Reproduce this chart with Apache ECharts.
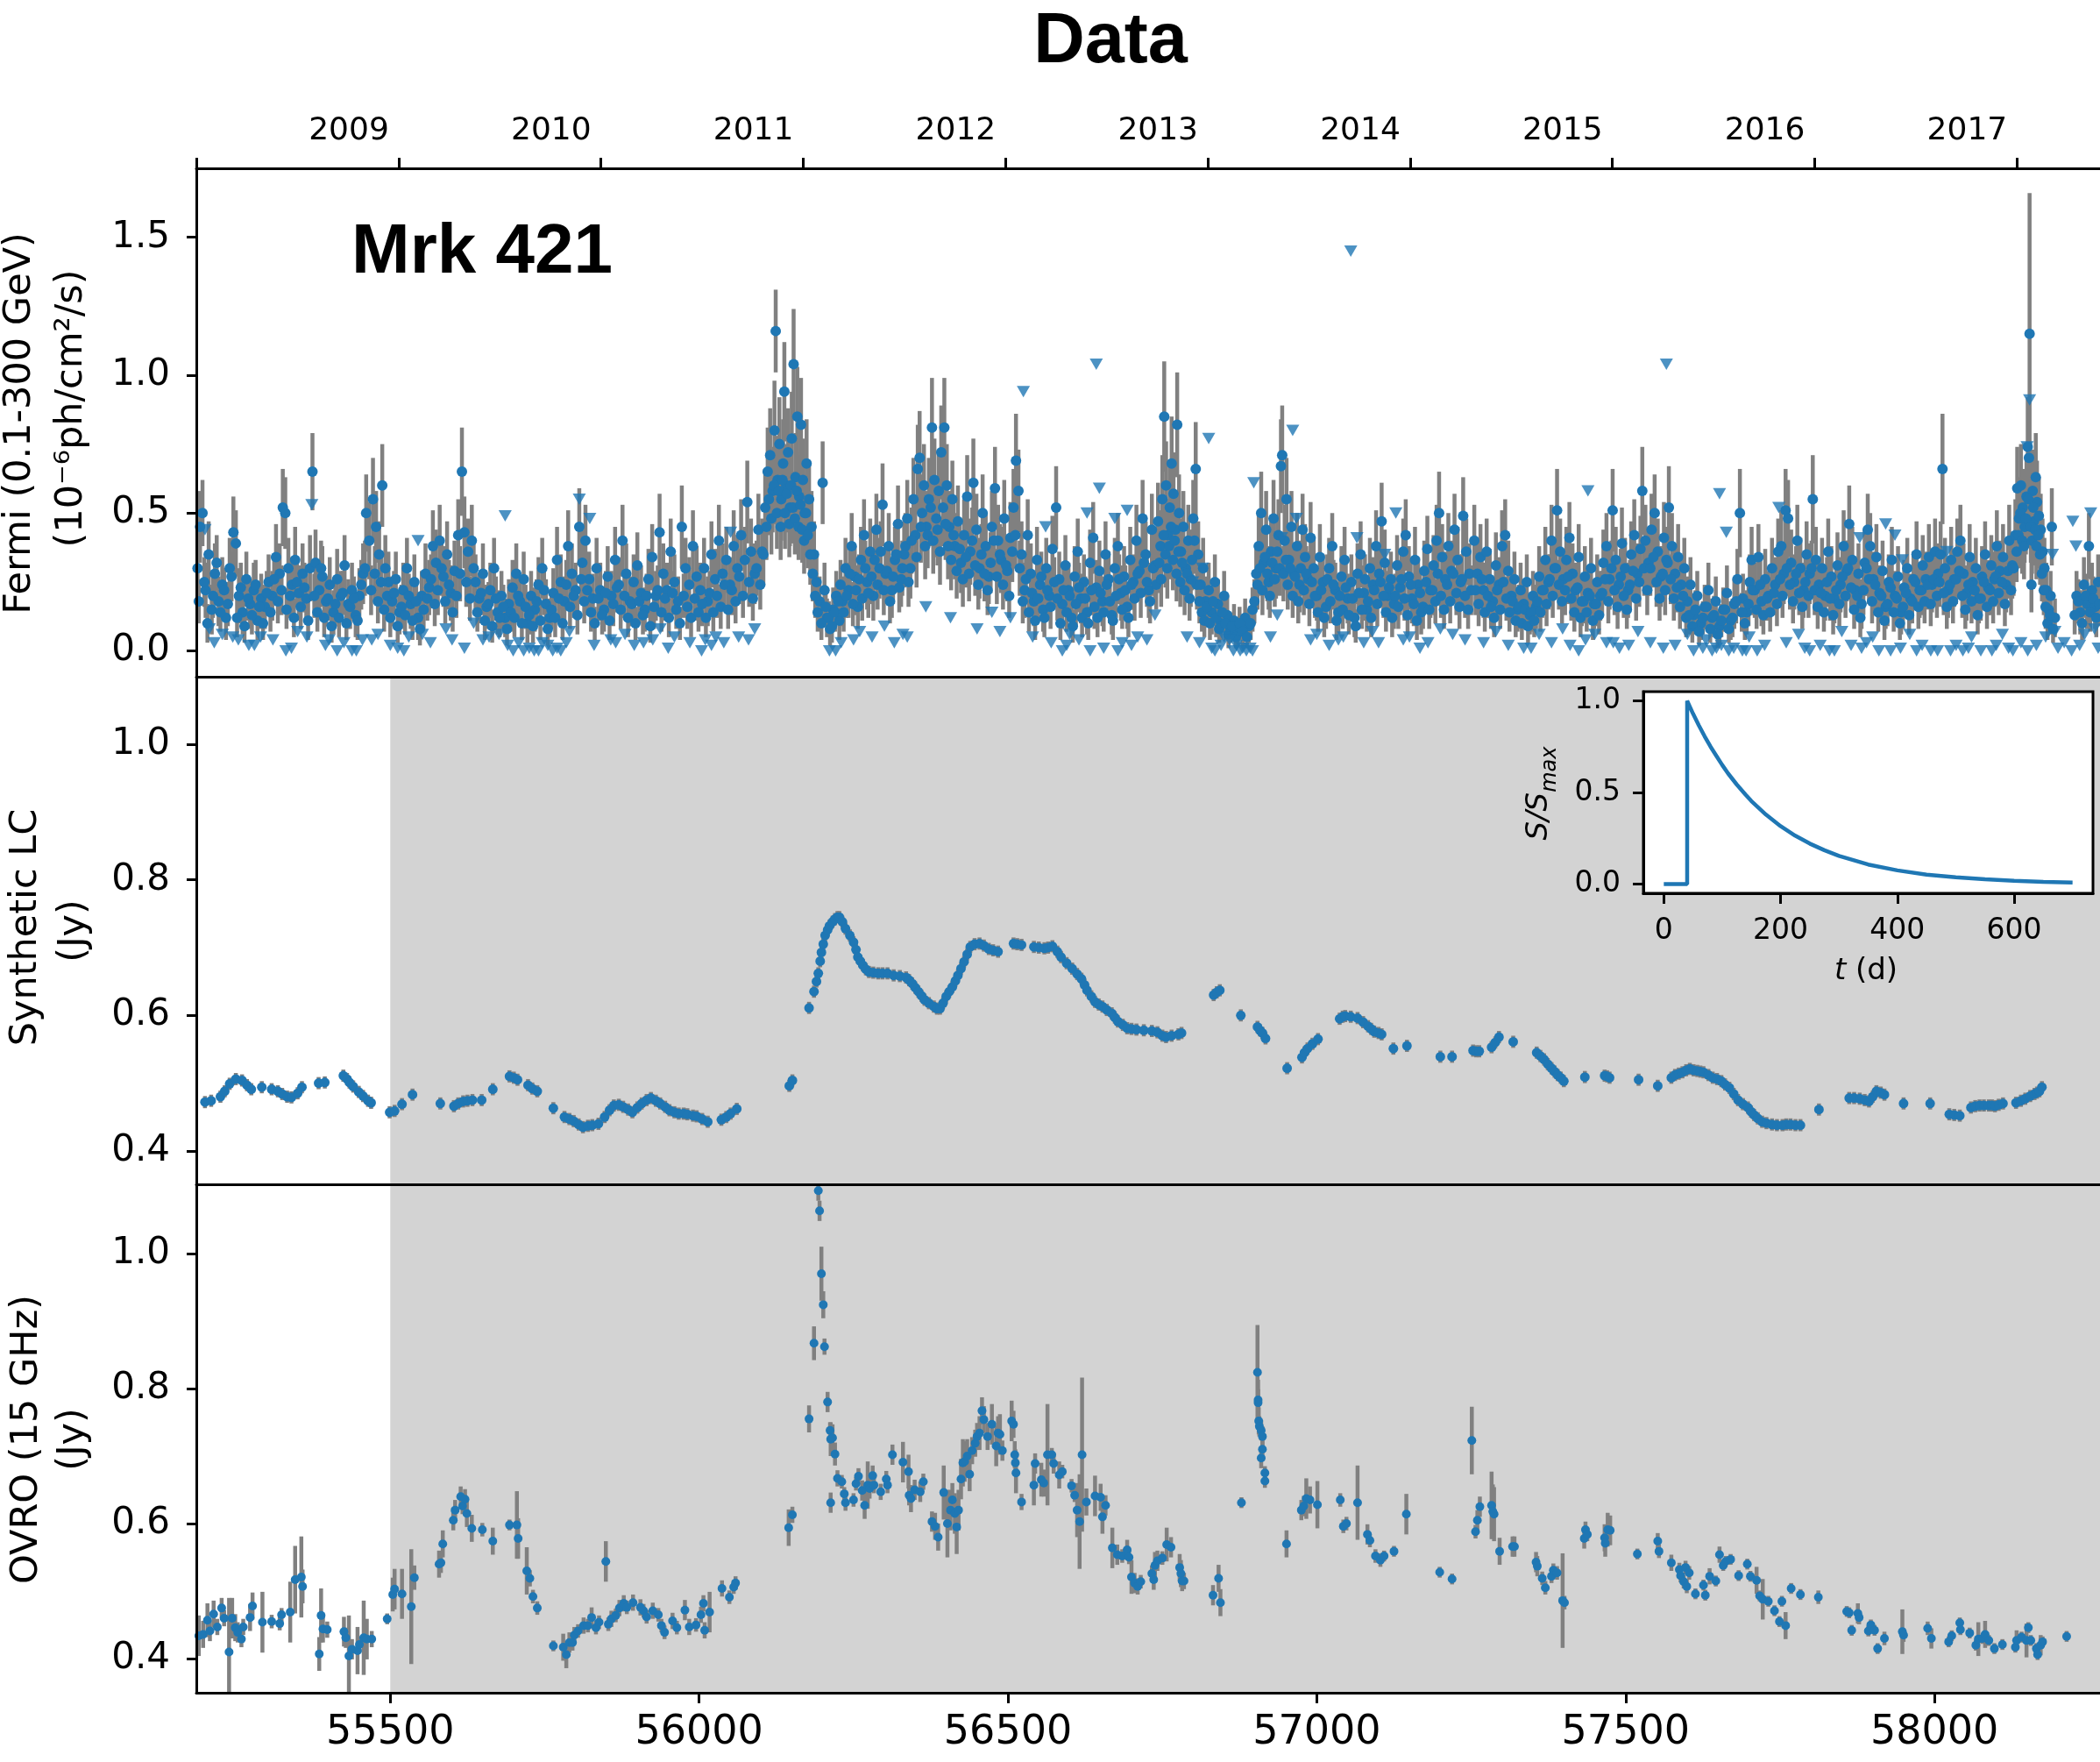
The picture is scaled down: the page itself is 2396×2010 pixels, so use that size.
<!DOCTYPE html>
<html><head><meta charset="utf-8">
<script src="https://cdn.jsdelivr.net/npm/echarts@6/dist/echarts.min.js"></script>
<style>html,body{margin:0;padding:0;background:#fff}#c{width:2396px;height:2010px}</style>
</head><body><div id="c"></div>
<script>
// ---------------- DATA ----------------
// Fermi detections: [MJD, flux (1e-6 ph/cm2/s), error]
const fermiPts = [
[55188,0.30,0.12],[55192,0.45,0.13],[55196,0.50,0.12],[55201,0.22,0.10],[55206,0.35,0.12],[55211,0.15,0.09],[55216,0.28,0.11],[55222,0.18,0.09],[55228,0.24,0.10],[55234,0.12,0.08],[55240,0.30,0.11],[55246,0.43,0.13],[55250,0.39,0.12],[55255,0.20,0.10],[55261,0.14,0.08],[55267,0.26,0.10],[55273,0.17,0.09],[55279,0.22,0.10],[55285,0.11,0.07],[55291,0.19,0.09],[55297,0.16,0.08],[55303,0.25,0.10],[55309,0.20,0.09],[55315,0.34,0.12],[55321,0.28,0.11],[55326,0.52,0.14],[55330,0.50,0.13],[55335,0.30,0.11],[55341,0.24,0.10],[55346,0.33,0.12],[55352,0.21,0.10],[55358,0.28,0.11],[55364,0.19,0.09],[55370,0.30,0.12],[55374,0.65,0.14],[55379,0.32,0.12],[55385,0.22,0.10],[55390,0.27,0.11],[55396,0.18,0.09],[55402,0.24,0.10],[55408,0.14,0.08],[55414,0.26,0.11],[55420,0.20,0.09],[55426,0.31,0.11],[55432,0.17,0.09],[55438,0.22,0.10],[55444,0.13,0.08],[55450,0.20,0.10],[55456,0.28,0.11],[55461,0.50,0.14],[55466,0.40,0.14],[55472,0.55,0.15],[55477,0.45,0.13],[55482,0.35,0.12],[55487,0.60,0.15],[55492,0.30,0.12],[55497,0.25,0.11],
[55503,0.18,0.09],[55509,0.26,0.10],[55515,0.14,0.08],[55521,0.22,0.10],[55527,0.30,0.11],[55533,0.17,0.09],[55539,0.25,0.10],[55545,0.12,0.08],[55551,0.20,0.09],[55557,0.28,0.11],[55563,0.23,0.10],[55569,0.38,0.13],[55574,0.32,0.12],[55580,0.40,0.13],[55586,0.27,0.11],[55592,0.35,0.12],[55598,0.21,0.10],[55604,0.29,0.11],[55610,0.42,0.13],[55616,0.65,0.16],[55620,0.43,0.13],[55626,0.36,0.12],[55632,0.40,0.13],[55638,0.25,0.10],[55644,0.19,0.09],[55650,0.28,0.11],[55656,0.16,0.08],[55662,0.22,0.10],[55668,0.30,0.11],[55674,0.14,0.08],[55680,0.20,0.09],[55686,0.12,0.07],[55692,0.17,0.09],[55698,0.23,0.10],
[55704,0.28,0.11],[55710,0.18,0.09],[55716,0.26,0.10],[55722,0.10,0.07],[55728,0.20,0.09],[55734,0.15,0.08],[55740,0.24,0.10],[55746,0.30,0.11],[55752,0.17,0.09],[55758,0.12,0.07],[55764,0.21,0.09],[55770,0.33,0.12],[55776,0.25,0.10],[55782,0.18,0.09],[55788,0.38,0.13],[55794,0.28,0.11],[55800,0.22,0.10],[55806,0.45,0.14],[55811,0.32,0.12],[55816,0.40,0.13],[55822,0.26,0.10],[55828,0.19,0.09],[55834,0.30,0.11],[55840,0.22,0.10],[55846,0.15,0.08],[55852,0.27,0.11],[55858,0.20,0.09],[55864,0.33,0.12],[55870,0.24,0.10],[55876,0.40,0.13],[55882,0.28,0.11],[55888,0.18,0.09],[55894,0.25,0.10],[55900,0.31,0.12],[55906,0.21,0.10],[55912,0.15,0.08],[55918,0.26,0.11],[55924,0.34,0.12],[55930,0.20,0.09],[55936,0.43,0.14],[55942,0.28,0.11],[55948,0.22,0.10],[55954,0.36,0.12],[55960,0.25,0.10],[55966,0.18,0.09],[55972,0.45,0.15],[55978,0.30,0.11],[55984,0.24,0.10],[55990,0.38,0.13],[55996,0.27,0.11],
[56002,0.22,0.10],[56008,0.30,0.11],[56014,0.18,0.09],[56020,0.35,0.12],[56026,0.26,0.11],[56032,0.40,0.13],[56038,0.28,0.11],[56044,0.33,0.12],[56050,0.24,0.10],[56056,0.38,0.13],[56062,0.30,0.12],[56068,0.42,0.13],[56074,0.33,0.12],[56078,0.54,0.15],[56084,0.36,0.12],[56090,0.28,0.11],[56096,0.44,0.13],[56102,0.36,0.12],[56107,0.52,0.14],[56111,0.65,0.16],[56115,0.71,0.17],[56119,0.58,0.15],[56122,0.80,0.18],[56124,1.16,0.15],[56127,0.62,0.16],[56130,0.75,0.17],[56133,0.55,0.15],[56136,0.68,0.16],[56138,0.94,0.18],[56141,0.60,0.15],[56144,0.72,0.16],[56147,0.52,0.14],[56150,0.77,0.17],[56153,1.04,0.20],[56156,0.63,0.16],[56159,0.85,0.18],[56162,0.56,0.15],[56165,0.82,0.17],[56168,0.62,0.15],[56171,0.50,0.14],[56174,0.68,0.16],[56178,0.55,0.14],[56182,0.45,0.13],[56186,0.35,0.12],[56190,0.25,0.10],[56195,0.18,0.09],[56200,0.61,0.15],[56203,0.22,0.10],[56207,0.12,0.07],[56212,0.08,0.06],[56217,0.15,0.08],[56222,0.20,0.09],[56227,0.11,0.07],
[56232,0.18,0.09],[56237,0.30,0.11],[56242,0.22,0.10],[56247,0.38,0.12],[56252,0.27,0.11],[56257,0.16,0.08],[56262,0.33,0.12],[56267,0.42,0.13],[56272,0.25,0.10],[56277,0.36,0.12],[56282,0.20,0.09],[56287,0.44,0.13],[56292,0.30,0.11],[56297,0.53,0.15],[56302,0.28,0.11],[56307,0.38,0.12],[56312,0.22,0.10],[56317,0.33,0.12],[56322,0.46,0.14],[56327,0.26,0.10],[56332,0.35,0.12],[56337,0.48,0.14],[56342,0.30,0.11],[56347,0.55,0.15],[56350,0.42,0.13],[56354,0.66,0.16],[56357,0.70,0.17],[56361,0.50,0.14],[56364,0.60,0.15],[56368,0.45,0.13],[56372,0.55,0.15],[56377,0.81,0.18],[56381,0.62,0.15],[56384,0.48,0.14],[56388,0.58,0.15],[56392,0.72,0.17],[56395,0.52,0.14],[56397,0.81,0.18],[56401,0.60,0.15],[56405,0.45,0.13],[56410,0.55,0.14],[56414,0.38,0.12],[56419,0.47,0.13],[56424,0.32,0.11],[56429,0.42,0.13],[56434,0.56,0.15],[56439,0.36,0.12],[56444,0.61,0.16],[56449,0.44,0.13],[56454,0.30,0.11],[56459,0.50,0.14],[56464,0.38,0.12],[56469,0.27,0.10],[56474,0.45,0.13],[56479,0.59,0.15],[56484,0.40,0.13],[56489,0.33,0.12],[56494,0.48,0.14],[56499,0.29,0.11],[56504,0.41,0.13],[56509,0.52,0.14],[56513,0.69,0.17],[56517,0.58,0.15],
[56522,0.35,0.12],[56527,0.22,0.10],[56532,0.42,0.13],[56537,0.28,0.11],[56542,0.18,0.09],[56547,0.33,0.12],[56552,0.24,0.10],[56557,0.15,0.08],[56562,0.30,0.11],[56567,0.20,0.09],[56572,0.37,0.12],[56578,0.52,0.15],[56583,0.26,0.10],[56588,0.17,0.09],[56593,0.31,0.11],[56598,0.22,0.10],[56603,0.12,0.07],[56608,0.27,0.11],[56613,0.36,0.12],[56618,0.19,0.09],[56623,0.25,0.10],[56628,0.14,0.08],[56633,0.32,0.12],[56638,0.41,0.13],[56643,0.23,0.10],[56648,0.29,0.11],[56653,0.18,0.09],[56658,0.35,0.12],[56663,0.26,0.10],[56668,0.13,0.07],[56673,0.30,0.11],[56678,0.38,0.12],[56683,0.21,0.10],[56688,0.27,0.11],[56693,0.16,0.08],[56698,0.33,0.12],[56703,0.25,0.10],[56708,0.40,0.13],[56713,0.29,0.11],[56718,0.48,0.14],[56723,0.35,0.12],[56728,0.22,0.10],[56733,0.44,0.13],[56738,0.31,0.12],
[56743,0.47,0.14],[56747,0.38,0.13],[56750,0.55,0.16],[56753,0.85,0.20],[56756,0.60,0.16],[56759,0.42,0.13],[56762,0.52,0.15],[56765,0.68,0.17],[56768,0.57,0.15],[56771,0.44,0.13],[56774,0.82,0.19],[56777,0.50,0.14],[56780,0.36,0.12],[56784,0.45,0.13],[56788,0.30,0.11],[56792,0.40,0.13],[56796,0.26,0.10],[56800,0.48,0.14],[56804,0.66,0.17],[56808,0.35,0.12],[56812,0.24,0.10],[56816,0.30,0.11],[56820,0.18,0.09],[56825,0.22,0.10],[56830,0.14,0.08],[56835,0.25,0.10],[56840,0.17,0.09],[56845,0.10,0.06],[56850,0.20,0.09],[56855,0.13,0.07],[56860,0.08,0.05],[56866,0.11,0.06],[56872,0.07,0.05],
[56884,0.12,0.07],[56890,0.09,0.06],[56896,0.15,0.08],[56902,0.28,0.11],[56906,0.38,0.13],[56910,0.50,0.15],[56914,0.32,0.12],[56918,0.44,0.14],[56922,0.25,0.10],[56926,0.36,0.12],[56930,0.48,0.14],[56934,0.30,0.11],[56938,0.42,0.13],[56942,0.67,0.17],[56944,0.71,0.18],[56948,0.40,0.13],[56951,0.55,0.15],[56955,0.33,0.12],[56959,0.45,0.13],[56963,0.28,0.11],[56968,0.38,0.12],[56972,0.24,0.10],[56977,0.44,0.13],[56981,0.34,0.12],[56986,0.26,0.10],[56990,0.41,0.13],[56995,0.30,0.11],
[57000,0.20,0.09],[57005,0.34,0.12],[57010,0.25,0.10],[57015,0.16,0.08],[57020,0.30,0.11],[57025,0.38,0.12],[57030,0.22,0.10],[57035,0.14,0.08],[57040,0.27,0.11],[57045,0.33,0.12],[57050,0.19,0.09],[57056,0.25,0.10],[57061,0.12,0.07],[57066,0.28,0.11],[57071,0.35,0.12],[57076,0.21,0.10],[57081,0.15,0.08],[57086,0.30,0.11],[57091,0.24,0.10],[57096,0.38,0.13],[57101,0.28,0.11],[57105,0.47,0.14],[57110,0.32,0.12],[57115,0.20,0.09],[57120,0.26,0.10],[57125,0.17,0.09],[57130,0.31,0.11],[57135,0.23,0.10],[57140,0.36,0.12],[57144,0.42,0.13],[57149,0.27,0.11],[57154,0.19,0.09],[57159,0.33,0.12],[57164,0.24,0.10],[57169,0.14,0.08],[57174,0.29,0.11],[57179,0.37,0.12],[57184,0.22,0.10],[57189,0.31,0.11],[57194,0.40,0.13],[57198,0.50,0.15],[57203,0.34,0.12],[57208,0.26,0.10],[57213,0.38,0.12],[57218,0.29,0.11],[57223,0.44,0.13],[57228,0.33,0.12],[57233,0.25,0.10],[57237,0.49,0.14],[57242,0.36,0.12],[57247,0.28,0.11],
[57255,0.40,0.13],[57260,0.28,0.11],[57265,0.34,0.12],[57270,0.22,0.10],[57275,0.36,0.12],[57280,0.26,0.11],[57285,0.18,0.09],[57290,0.31,0.12],[57295,0.24,0.10],[57300,0.38,0.13],[57305,0.42,0.13],[57310,0.29,0.11],[57315,0.20,0.09],[57320,0.26,0.10],[57325,0.15,0.08],[57330,0.22,0.10],[57335,0.17,0.09],[57340,0.25,0.10],[57345,0.13,0.07],[57350,0.20,0.09],[57355,0.16,0.08],[57360,0.27,0.11],[57365,0.22,0.10],[57370,0.33,0.12],[57375,0.25,0.10],[57380,0.40,0.13],[57385,0.30,0.11],[57389,0.51,0.15],[57394,0.36,0.12],[57399,0.26,0.10],[57404,0.33,0.12],[57409,0.41,0.13],[57414,0.28,0.11],[57419,0.22,0.10],[57424,0.34,0.12],[57429,0.18,0.09],[57434,0.27,0.11],[57439,0.21,0.10],[57444,0.30,0.11],[57449,0.17,0.09],[57454,0.25,0.10],[57459,0.20,0.09],[57464,0.32,0.12],[57469,0.38,0.12],[57474,0.26,0.11],[57479,0.51,0.15],[57484,0.33,0.12],[57489,0.24,0.10],[57494,0.39,0.13],[57499,0.30,0.11],[57504,0.22,0.10],[57509,0.35,0.12],[57514,0.42,0.13],[57519,0.28,0.11],[57524,0.37,0.12],[57527,0.58,0.16],[57532,0.40,0.13],[57537,0.32,0.12],[57542,0.44,0.13],[57547,0.50,0.14],[57552,0.36,0.12],[57557,0.27,0.11],[57562,0.41,0.13],[57566,0.33,0.12],[57570,0.52,0.15],[57575,0.38,0.12],[57580,0.28,0.11],[57585,0.34,0.12],[57590,0.24,0.10],[57595,0.30,0.11],
[57600,0.18,0.09],[57605,0.24,0.10],[57610,0.13,0.07],[57616,0.20,0.09],[57622,0.10,0.06],[57628,0.16,0.08],[57634,0.22,0.10],[57640,0.12,0.07],[57646,0.18,0.09],[57652,0.09,0.06],[57658,0.15,0.08],[57664,0.21,0.10],[57670,0.11,0.07],[57676,0.17,0.09],[57681,0.26,0.11],[57685,0.50,0.16],[57690,0.19,0.09],[57696,0.14,0.08],[57701,0.25,0.10],[57704,0.33,0.12],[57709,0.22,0.10],[57715,0.34,0.12],[57720,0.18,0.09],[57726,0.26,0.11],[57731,0.20,0.09],[57737,0.30,0.11],[57742,0.24,0.10],[57747,0.36,0.12],[57752,0.38,0.13],[57756,0.28,0.11],[57759,0.51,0.15],[57763,0.48,0.14],[57768,0.32,0.12],[57773,0.25,0.10],[57778,0.40,0.13],[57783,0.30,0.11],[57788,0.22,0.10],[57793,0.35,0.12],[57798,0.28,0.11],[57803,0.55,0.16],
[57808,0.33,0.12],[57813,0.24,0.10],[57818,0.30,0.11],[57823,0.20,0.09],[57828,0.36,0.12],[57833,0.27,0.11],[57838,0.19,0.09],[57843,0.31,0.12],[57848,0.24,0.10],[57853,0.38,0.13],[57858,0.29,0.11],[57862,0.46,0.14],[57867,0.33,0.12],[57872,0.22,0.10],[57877,0.28,0.11],[57882,0.17,0.09],[57887,0.32,0.12],[57892,0.44,0.13],[57896,0.38,0.12],[57901,0.26,0.10],[57906,0.34,0.12],[57911,0.21,0.10],[57916,0.29,0.11],[57921,0.16,0.08],[57926,0.25,0.10],[57931,0.33,0.12],[57936,0.20,0.09],[57941,0.27,0.11],[57946,0.14,0.08],[57951,0.23,0.10],[57956,0.30,0.11],[57961,0.19,0.09],[57966,0.26,0.10],[57971,0.35,0.12],[57976,0.22,0.10],[57981,0.31,0.11],[57986,0.26,0.10],[57991,0.34,0.12],[57996,0.24,0.10],[58001,0.36,0.12],[58006,0.28,0.11],[58010,0.35,0.12],[58013,0.66,0.20],[58017,0.30,0.11],[58022,0.22,0.10],[58027,0.33,0.12],[58032,0.26,0.10],[58037,0.36,0.12],[58042,0.40,0.13],[58047,0.28,0.11],[58052,0.21,0.10],[58057,0.34,0.12],[58062,0.25,0.10],[58067,0.30,0.11],[58072,0.19,0.09],[58077,0.27,0.11],[58082,0.35,0.12],[58087,0.23,0.10],[58092,0.31,0.11],[58097,0.26,0.10],[58101,0.38,0.13],[58106,0.29,0.11],[58111,0.34,0.12],[58116,0.24,0.10],[58121,0.40,0.13],[58126,0.31,0.12],
[58131,0.42,0.13],[58134,0.59,0.15],[58137,0.48,0.14],[58140,0.60,0.15],[58143,0.52,0.14],[58146,0.45,0.13],[58149,0.56,0.15],[58151,0.74,0.18],[58153,0.70,0.18],[58154,1.15,0.51],[58157,0.24,0.10],[58159,0.58,0.15],[58161,0.47,0.14],[58164,0.63,0.16],[58166,0.54,0.15],[58169,0.49,0.14],[58172,0.44,0.13],[58175,0.36,0.12],[58178,0.30,0.11],[58181,0.22,0.10],[58185,0.15,0.08],[58188,0.20,0.09],[58190,0.45,0.14],[58195,0.12,0.07],[58230,0.20,0.09],[58236,0.14,0.08],[58242,0.24,0.10],[58247,0.17,0.09],[58250,0.38,0.12],[58255,0.22,0.10],[58260,0.16,0.08],[58265,0.25,0.10]
];
// Further Fermi detections in the dense lower band: [MJD, flux, error]
const fermiPtsLow = [
[55190,0.18,0.08],[55199,0.25,0.09],[55204,0.10,0.07],[55213,0.20,0.08],[55219,0.32,0.10],[55225,0.14,0.07],[55231,0.22,0.08],[55237,0.17,0.08],[55243,0.27,0.09],[55252,0.12,0.07],[55258,0.23,0.09],[55264,0.09,0.06],[55270,0.19,0.08],[55276,0.13,0.07],[55282,0.24,0.09],[55288,0.16,0.08],[55294,0.10,0.06],[55300,0.21,0.08],[55306,0.14,0.07],[55312,0.26,0.09],[55318,0.18,0.08],[55324,0.22,0.09],[55332,0.15,0.07],[55338,0.20,0.08],[55344,0.12,0.07],[55349,0.25,0.09],[55355,0.16,0.08],[55361,0.23,0.09],[55367,0.11,0.07],[55377,0.20,0.08],[55382,0.14,0.07],[55388,0.30,0.10],[55393,0.12,0.07],[55399,0.19,0.08],[55405,0.09,0.06],[55411,0.17,0.08],[55417,0.12,0.07],[55423,0.21,0.08],[55429,0.10,0.06],[55435,0.16,0.08],[55441,0.19,0.08],[55447,0.11,0.07],[55453,0.24,0.09],[55459,0.30,0.10],[55469,0.22,0.09],[55475,0.28,0.10],[55480,0.18,0.08],[55485,0.25,0.09],[55490,0.15,0.08],[55495,0.20,0.08],
[55500,0.12,0.07],[55506,0.21,0.08],[55512,0.09,0.06],[55518,0.16,0.08],[55524,0.13,0.07],[55530,0.20,0.08],[55536,0.11,0.07],[55542,0.18,0.08],[55548,0.08,0.06],[55554,0.15,0.07],[55560,0.19,0.08],[55566,0.26,0.09],[55572,0.17,0.08],[55577,0.22,0.09],[55583,0.30,0.10],[55589,0.18,0.08],[55595,0.24,0.09],[55601,0.14,0.07],[55607,0.20,0.08],[55613,0.28,0.10],[55623,0.25,0.09],[55629,0.19,0.08],[55635,0.30,0.10],[55641,0.14,0.07],[55647,0.21,0.08],[55653,0.11,0.07],[55659,0.17,0.08],[55665,0.09,0.06],[55671,0.19,0.08],[55677,0.12,0.07],[55683,0.16,0.08],[55689,0.08,0.06],[55695,0.14,0.07],
[55701,0.12,0.07],[55707,0.20,0.08],[55713,0.10,0.06],[55719,0.16,0.08],[55725,0.13,0.07],[55731,0.09,0.06],[55737,0.18,0.08],[55743,0.11,0.07],[55749,0.22,0.09],[55755,0.08,0.06],[55761,0.15,0.07],[55767,0.12,0.07],[55773,0.19,0.08],[55779,0.10,0.06],[55785,0.24,0.09],[55791,0.16,0.08],[55797,0.20,0.08],[55803,0.13,0.07],[55809,0.26,0.09],[55814,0.18,0.08],[55819,0.22,0.09],[55825,0.14,0.07],[55831,0.10,0.06],[55837,0.19,0.08],[55843,0.13,0.07],[55849,0.21,0.08],[55855,0.11,0.07],[55861,0.17,0.08],[55867,0.23,0.09],[55873,0.15,0.07],[55879,0.20,0.08],[55885,0.12,0.07],[55891,0.17,0.08],[55897,0.10,0.06],[55903,0.18,0.08],[55909,0.13,0.07],[55915,0.20,0.08],[55921,0.09,0.06],[55927,0.16,0.08],[55933,0.22,0.09],[55939,0.14,0.07],[55945,0.19,0.08],[55951,0.12,0.07],[55957,0.21,0.08],[55963,0.15,0.07],[55969,0.10,0.06],[55975,0.20,0.08],[55981,0.16,0.08],[55987,0.12,0.07],[55993,0.19,0.08],[55999,0.14,0.07],
[56005,0.17,0.08],[56011,0.12,0.07],[56017,0.21,0.08],[56023,0.14,0.07],[56029,0.20,0.08],[56035,0.16,0.08],[56041,0.24,0.09],[56047,0.15,0.07],[56053,0.22,0.09],[56059,0.18,0.08],[56065,0.27,0.10],[56071,0.20,0.08],[56081,0.25,0.09],[56087,0.19,0.08],[56093,0.30,0.10],[56099,0.24,0.09],[56104,0.35,0.11],[56109,0.45,0.12],[56113,0.55,0.13],[56117,0.48,0.13],[56121,0.60,0.14],[56126,0.50,0.13],[56129,0.58,0.14],[56132,0.45,0.12],[56135,0.62,0.14],[56139,0.50,0.13],[56142,0.57,0.14],[56146,0.46,0.12],[56149,0.60,0.14],[56152,0.52,0.13],[56155,0.48,0.13],[56158,0.58,0.14],[56161,0.45,0.12],[56164,0.53,0.13],[56167,0.44,0.12],[56170,0.40,0.12],[56173,0.50,0.13],[56176,0.42,0.12],[56180,0.35,0.11],[56184,0.28,0.10],[56188,0.20,0.08],[56192,0.14,0.07],[56198,0.10,0.06],[56205,0.16,0.07],[56210,0.12,0.06],[56215,0.09,0.06],[56220,0.14,0.07],[56225,0.18,0.08],
[56229,0.24,0.09],[56234,0.14,0.07],[56239,0.20,0.08],[56244,0.28,0.10],[56249,0.17,0.08],[56254,0.22,0.09],[56259,0.26,0.09],[56264,0.19,0.08],[56269,0.30,0.10],[56274,0.21,0.09],[56279,0.27,0.10],[56284,0.33,0.11],[56289,0.24,0.09],[56294,0.36,0.11],[56299,0.22,0.09],[56304,0.29,0.10],[56309,0.18,0.08],[56314,0.27,0.10],[56319,0.35,0.11],[56324,0.23,0.09],[56329,0.30,0.10],[56334,0.38,0.12],[56339,0.25,0.09],[56344,0.40,0.12],[56352,0.34,0.11],[56359,0.45,0.13],[56366,0.38,0.12],[56370,0.42,0.12],[56375,0.52,0.14],[56379,0.40,0.12],[56386,0.44,0.13],[56390,0.36,0.12],[56399,0.46,0.13],[56403,0.38,0.12],[56408,0.33,0.11],[56412,0.42,0.12],[56417,0.29,0.10],[56422,0.37,0.11],[56427,0.26,0.10],[56432,0.34,0.11],[56437,0.28,0.10],[56442,0.40,0.12],[56447,0.31,0.11],[56452,0.24,0.09],[56457,0.35,0.11],[56462,0.28,0.10],[56467,0.22,0.09],[56472,0.32,0.11],[56477,0.40,0.12],[56482,0.27,0.10],[56487,0.35,0.11],[56492,0.24,0.09],[56497,0.31,0.11],[56502,0.20,0.08],[56507,0.36,0.11],[56512,0.42,0.12],[56519,0.30,0.10],
[56524,0.18,0.08],[56529,0.26,0.09],[56534,0.14,0.07],[56539,0.21,0.08],[56544,0.11,0.07],[56549,0.19,0.08],[56554,0.27,0.09],[56559,0.12,0.07],[56564,0.22,0.09],[56569,0.16,0.08],[56575,0.25,0.09],[56580,0.19,0.08],[56585,0.10,0.06],[56590,0.22,0.09],[56595,0.14,0.07],[56600,0.20,0.08],[56605,0.09,0.06],[56610,0.17,0.08],[56615,0.23,0.09],[56620,0.12,0.07],[56625,0.19,0.08],[56630,0.10,0.06],[56635,0.22,0.09],[56640,0.16,0.08],[56645,0.12,0.07],[56650,0.21,0.08],[56655,0.14,0.07],[56660,0.24,0.09],[56665,0.18,0.08],[56670,0.11,0.07],[56675,0.20,0.08],[56680,0.26,0.09],[56685,0.15,0.07],[56690,0.22,0.09],[56695,0.12,0.07],[56700,0.24,0.09],[56705,0.19,0.08],[56710,0.28,0.10],[56715,0.21,0.09],[56720,0.32,0.11],[56725,0.25,0.09],[56730,0.18,0.08],[56735,0.30,0.10],[56740,0.24,0.09],
[56745,0.32,0.11],[56748,0.26,0.10],[56752,0.42,0.13],[56755,0.35,0.12],[56758,0.30,0.11],[56761,0.38,0.12],[56764,0.45,0.13],[56767,0.33,0.11],[56770,0.40,0.12],[56773,0.28,0.10],[56776,0.36,0.12],[56779,0.25,0.09],[56782,0.32,0.11],[56786,0.22,0.09],[56790,0.28,0.10],[56794,0.19,0.08],[56798,0.33,0.11],[56802,0.40,0.12],[56806,0.24,0.09],[56810,0.18,0.08],[56814,0.14,0.07],[56818,0.11,0.06],[56822,0.16,0.07],[56827,0.10,0.06],[56832,0.18,0.08],[56837,0.12,0.07],[56842,0.08,0.05],[56847,0.14,0.07],[56852,0.10,0.06],[56857,0.06,0.05],[56863,0.09,0.05],[56869,0.05,0.04],[56875,0.10,0.06],[56880,0.07,0.05],
[56887,0.05,0.04],[56893,0.10,0.06],[56899,0.18,0.08],[56904,0.24,0.09],[56908,0.30,0.10],[56912,0.22,0.09],[56916,0.34,0.11],[56920,0.28,0.10],[56924,0.20,0.08],[56928,0.32,0.11],[56932,0.26,0.10],[56936,0.36,0.12],[56940,0.30,0.10],[56946,0.28,0.10],[56950,0.33,0.11],[56953,0.24,0.09],[56957,0.30,0.10],[56961,0.20,0.08],[56965,0.27,0.10],[56970,0.18,0.08],[56974,0.30,0.10],[56979,0.22,0.09],[56983,0.28,0.10],[56988,0.17,0.08],[56992,0.25,0.09],[56997,0.20,0.08],
[57002,0.14,0.07],[57007,0.22,0.09],[57012,0.12,0.07],[57017,0.26,0.09],[57022,0.18,0.08],[57027,0.24,0.09],[57032,0.11,0.07],[57037,0.20,0.08],[57042,0.15,0.07],[57047,0.23,0.09],[57052,0.13,0.07],[57058,0.19,0.08],[57063,0.09,0.06],[57068,0.21,0.08],[57073,0.15,0.07],[57078,0.26,0.09],[57083,0.18,0.08],[57088,0.12,0.07],[57093,0.22,0.09],[57098,0.17,0.08],[57103,0.25,0.09],[57108,0.20,0.08],[57112,0.14,0.07],[57117,0.23,0.09],[57122,0.12,0.07],[57127,0.20,0.08],[57132,0.16,0.08],[57137,0.26,0.09],[57142,0.19,0.08],[57147,0.13,0.07],[57152,0.24,0.09],[57157,0.17,0.08],[57162,0.11,0.07],[57167,0.21,0.08],[57172,0.16,0.08],[57177,0.25,0.09],[57182,0.15,0.07],[57187,0.22,0.09],[57192,0.18,0.08],[57196,0.28,0.10],[57201,0.20,0.08],[57206,0.15,0.07],[57211,0.24,0.09],[57216,0.18,0.08],[57221,0.28,0.10],[57226,0.21,0.08],[57231,0.16,0.08],[57235,0.26,0.09],[57240,0.20,0.08],[57245,0.15,0.07],[57250,0.22,0.09],
[57257,0.22,0.09],[57262,0.17,0.08],[57267,0.26,0.09],[57272,0.14,0.07],[57277,0.20,0.08],[57282,0.16,0.08],[57287,0.12,0.07],[57292,0.22,0.09],[57297,0.15,0.07],[57302,0.25,0.09],[57307,0.19,0.08],[57312,0.14,0.07],[57317,0.18,0.08],[57322,0.11,0.06],[57327,0.16,0.08],[57332,0.10,0.06],[57337,0.15,0.07],[57342,0.09,0.06],[57347,0.14,0.07],[57352,0.11,0.06],[57357,0.18,0.08],[57362,0.14,0.07],[57367,0.22,0.09],[57372,0.17,0.08],[57377,0.26,0.09],[57382,0.20,0.08],[57387,0.30,0.10],[57392,0.24,0.09],[57397,0.18,0.08],[57402,0.22,0.09],[57407,0.27,0.10],[57412,0.19,0.08],[57417,0.14,0.07],[57422,0.23,0.09],[57427,0.12,0.07],[57432,0.18,0.08],[57437,0.14,0.07],[57442,0.20,0.08],[57447,0.11,0.07],[57452,0.17,0.08],[57457,0.13,0.07],[57462,0.21,0.08],[57467,0.26,0.09],[57472,0.18,0.08],[57477,0.30,0.10],[57482,0.22,0.09],[57487,0.16,0.08],[57492,0.27,0.10],[57497,0.20,0.08],[57502,0.15,0.07],[57507,0.24,0.09],[57512,0.29,0.10],[57517,0.19,0.08],[57522,0.25,0.09],[57530,0.30,0.10],[57535,0.22,0.09],[57540,0.30,0.10],[57545,0.34,0.11],[57550,0.25,0.09],[57555,0.19,0.08],[57560,0.28,0.10],[57564,0.22,0.09],[57568,0.32,0.11],[57573,0.26,0.09],[57578,0.19,0.08],[57583,0.23,0.09],[57588,0.16,0.08],[57593,0.20,0.08],[57598,0.12,0.07],
[57603,0.13,0.07],[57608,0.09,0.06],[57613,0.15,0.07],[57619,0.07,0.05],[57625,0.12,0.06],[57631,0.16,0.07],[57637,0.08,0.05],[57643,0.13,0.07],[57649,0.06,0.05],[57655,0.11,0.06],[57661,0.15,0.07],[57667,0.08,0.05],[57673,0.12,0.07],[57679,0.18,0.08],[57688,0.14,0.07],[57693,0.10,0.06],[57699,0.17,0.08],[57706,0.22,0.09],[57712,0.15,0.07],[57718,0.24,0.09],[57723,0.13,0.07],[57729,0.19,0.08],[57734,0.14,0.07],[57740,0.21,0.08],[57745,0.17,0.08],[57750,0.26,0.09],[57754,0.20,0.08],[57761,0.30,0.10],[57766,0.24,0.09],[57771,0.18,0.08],[57776,0.28,0.10],[57781,0.21,0.08],[57786,0.16,0.08],[57791,0.25,0.09],[57796,0.20,0.08],[57801,0.30,0.10],
[57806,0.22,0.09],[57811,0.16,0.08],[57816,0.21,0.08],[57821,0.14,0.07],[57826,0.25,0.09],[57831,0.19,0.08],[57836,0.13,0.07],[57841,0.22,0.09],[57846,0.17,0.08],[57851,0.27,0.10],[57856,0.20,0.08],[57860,0.30,0.10],[57865,0.23,0.09],[57870,0.15,0.07],[57875,0.20,0.08],[57880,0.12,0.07],[57885,0.22,0.09],[57890,0.30,0.10],[57894,0.26,0.09],[57899,0.18,0.08],[57904,0.24,0.09],[57909,0.14,0.07],[57914,0.20,0.08],[57919,0.11,0.07],[57924,0.17,0.08],[57929,0.23,0.09],[57934,0.14,0.07],[57939,0.19,0.08],[57944,0.10,0.06],[57949,0.16,0.08],[57954,0.21,0.08],[57959,0.13,0.07],[57964,0.18,0.08],[57969,0.25,0.09],[57974,0.16,0.08],[57979,0.22,0.09],[57984,0.18,0.08],[57989,0.24,0.09],[57994,0.17,0.08],[57999,0.26,0.09],[58004,0.20,0.08],[58008,0.25,0.09],[58015,0.21,0.08],[58020,0.16,0.08],[58025,0.24,0.09],[58030,0.18,0.08],[58035,0.26,0.09],[58040,0.29,0.10],[58045,0.20,0.08],[58050,0.15,0.07],[58055,0.24,0.09],[58060,0.18,0.08],[58065,0.22,0.09],[58070,0.13,0.07],[58075,0.19,0.08],[58080,0.25,0.09],[58085,0.16,0.08],[58090,0.22,0.09],[58095,0.18,0.08],[58099,0.27,0.10],[58104,0.21,0.08],[58109,0.25,0.09],[58114,0.17,0.08],[58119,0.29,0.10],[58124,0.22,0.09],[58128,0.30,0.10],
[58133,0.36,0.11],[58136,0.42,0.12],[58139,0.50,0.13],[58142,0.40,0.12],[58145,0.38,0.12],[58148,0.48,0.13],[58152,0.55,0.14],[58156,0.45,0.13],[58158,0.40,0.12],[58160,0.52,0.14],[58163,0.44,0.13],[58165,0.38,0.12],[58168,0.42,0.12],[58171,0.35,0.11],[58174,0.28,0.10],[58177,0.22,0.09],[58180,0.16,0.08],[58183,0.10,0.06],[58187,0.13,0.07],[58192,0.08,0.05],[58227,0.13,0.07],[58233,0.18,0.08],[58239,0.10,0.06],[58245,0.20,0.08],[58252,0.14,0.07],[58257,0.19,0.08],[58262,0.12,0.07],[58267,0.17,0.08]
];
// Fermi upper limits: [MJD, flux]
const fermiUL = [
[55200,0.44],[55207,0.08],[55215,0.03],[55228,0.06],[55245,0.05],[55254,0.04],[55271,0.02],[55280,0.02],[55290,0.05],[55310,0.04],[55331,0.0],[55340,0.01],[55350,0.07],[55365,0.05],[55373,0.53],[55395,0.02],[55401,0.04],[55414,0.0],[55425,0.03],[55438,0.0],[55445,0.0],[55455,0.04],[55470,0.04],[55480,0.06],[55500,0.02],[55512,0.01],[55522,0.0],[55530,0.05],[55545,0.40],[55552,0.06],[55565,0.03],[55590,0.08],[55600,0.04],[55620,0.01],[55635,0.10],[55650,0.04],[55660,0.05],[55676,0.06],[55686,0.49],[55690,0.02],[55699,0.0],[55708,0.03],[55716,0.0],[55725,0.01],[55733,0.0],[55740,0.0],[55746,0.03],[55755,0.02],[55763,0.0],[55770,0.01],[55776,0.0],[55785,0.03],[55790,0.07],[55806,0.55],[55823,0.48],[55830,0.02],[55857,0.04],[55865,0.03],[55880,0.06],[55895,0.02],[55910,0.03],[55925,0.04],[55937,0.08],[55950,0.01],[55960,0.05],[55985,0.03],[56004,0.0],[56010,0.04],[56020,0.02],[56027,0.05],[56040,0.03],[56051,0.43],[56064,0.05],[56080,0.04],[56090,0.08],[56211,0.0],[56221,0.0],[56230,0.03],[56250,0.04],[56260,0.07],[56280,0.05],[56300,0.09],[56316,0.03],[56330,0.06],[56337,0.05],[56367,0.16],[56407,0.12],[56450,0.08],[56474,0.14],[56487,0.07],[56504,0.12],[56525,0.94],[56540,0.05],[56561,0.45],[56570,0.03],[56588,0.0],[56595,0.02],[56600,0.06],[56615,0.04],[56628,0.50],[56633,0.0],[56643,1.04],[56648,0.59],[56655,0.01],[56673,0.48],[56678,0.0],[56685,0.03],[56693,0.51],[56700,0.02],[56710,0.05],[56725,0.04],[56738,0.13],[56790,0.05],[56799,0.25],[56810,0.03],[56815,0.30],[56825,0.77],[56830,0.01],[56835,0.0],[56845,0.02],[56850,0.05],[56859,0.04],[56865,0.0],[56870,0.02],[56876,0.0],[56880,0.01],[56886,0.0],[56892,0.01],[56896,0.0],[56898,0.61],[56925,0.05],[56936,0.13],[56943,0.41],[56961,0.80],[56967,0.48],[56990,0.04],[57000,0.06],[57020,0.02],[57035,0.04],[57043,0.05],[57055,1.45],[57065,0.41],[57076,0.03],[57090,0.07],[57100,0.03],[57110,0.35],[57128,0.50],[57140,0.04],[57150,0.05],[57167,0.01],[57180,0.03],[57200,0.08],[57220,0.06],[57240,0.04],[57270,0.03],[57290,0.07],[57310,0.02],[57335,0.01],[57347,0.01],[57360,0.06],[57380,0.03],[57398,0.08],[57410,0.02],[57424,0.0],[57435,0.04],[57439,0.58],[57450,0.06],[57469,0.03],[57480,0.03],[57490,0.01],[57505,0.02],[57520,0.07],[57540,0.03],[57561,0.01],[57566,1.04],[57580,0.02],[57600,0.06],[57610,0.0],[57625,0.01],[57630,0.04],[57640,0.0],[57647,0.01],[57652,0.57],[57655,0.02],[57663,0.43],[57667,0.0],[57675,0.01],[57689,0.0],[57695,0.0],[57700,0.05],[57713,0.0],[57725,0.02],[57748,0.52],[57760,0.03],[57780,0.06],[57790,0.01],[57798,0.0],[57815,0.02],[57830,0.0],[57838,0.0],[57850,0.07],[57865,0.02],[57879,0.41],[57882,0.01],[57890,0.03],[57900,0.05],[57910,0.0],[57921,0.46],[57929,0.0],[57936,0.42],[57945,0.01],[57948,0.33],[57960,0.06],[57971,0.0],[57980,0.02],[57994,0.0],[58005,0.0],[58020,0.36],[58026,0.0],[58035,0.02],[58046,0.0],[58055,0.01],[58060,0.05],[58075,0.0],[58093,0.0],[58100,0.02],[58110,0.06],[58120,0.01],[58127,0.0],[58140,0.03],[58150,0.74],[58151,0.0],[58154,0.91],[58165,0.02],[58180,0.05],[58191,0.35],[58195,0.07],[58200,0.01],[58210,0.03],[58222,0.0],[58224,0.47],[58229,0.38],[58235,0.02],[58243,0.06],[58253,0.50],[58259,0.08],[58265,0.01]
];
// Synthetic light curve: [MJD, Jy]
const synthPts = [
[55200,0.472],[55210,0.474],[55225,0.480],[55232,0.488],[55240,0.499],[55250,0.506],[55260,0.504],[55268,0.497],[55275,0.491],[55292,0.494],[55308,0.491],[55318,0.488],[55325,0.484],[55333,0.480],[55340,0.479],[55350,0.485],[55357,0.494],[55384,0.500],[55394,0.501],[55424,0.511],[55430,0.506],[55434,0.501],[55440,0.495],[55449,0.487],[55456,0.481],[55464,0.474],[55469,0.471],
[55499,0.457],[55507,0.459],[55519,0.469],[55536,0.483],[55581,0.470],[55603,0.466],[55610,0.470],[55618,0.473],[55625,0.474],[55633,0.475],[55648,0.475],[55666,0.491],[55693,0.510],[55700,0.508],[55706,0.505],[55723,0.497],[55730,0.492],[55738,0.488],[55764,0.463],[55782,0.450],[55790,0.447],[55797,0.444],[55805,0.439],[55812,0.435],[55820,0.437],[55827,0.438],[55837,0.440],[55847,0.450],[55855,0.460],[55862,0.467],[55870,0.468],[55877,0.465],[55885,0.461],[55892,0.457],[55900,0.464],[55907,0.470],[55915,0.475],[55922,0.478],[55930,0.474],[55937,0.470],[55945,0.465],[55952,0.460],[55960,0.457],[55967,0.455],[55975,0.455],[55981,0.454],[55990,0.452],[55996,0.451],[56005,0.447],[56014,0.443],[56036,0.446],[56044,0.450],[56051,0.455],[56061,0.462],
[56146,0.496],[56151,0.504],
[56178,0.611],[56186,0.635],[56190,0.650],[56193,0.662],[56196,0.680],[56198,0.693],[56201,0.705],[56204,0.718],[56208,0.726],[56211,0.732],[56216,0.738],[56220,0.742],[56224,0.745],[56227,0.745],[56232,0.738],[56237,0.728],[56244,0.718],[56250,0.708],[56254,0.697],[56257,0.686],[56261,0.680],[56265,0.674],[56270,0.668],[56275,0.664],[56282,0.663],[56290,0.662],[56297,0.662],[56305,0.662],[56315,0.659],[56325,0.658],[56335,0.656],[56340,0.652],[56345,0.647],[56350,0.641],[56355,0.635],[56360,0.629],[56365,0.623],[56372,0.618],[56380,0.613],[56385,0.610],[56390,0.610],[56395,0.618],[56400,0.628],[56405,0.635],[56410,0.642],[56415,0.651],[56419,0.659],[56424,0.669],[56429,0.679],[56434,0.690],[56439,0.701],[56446,0.705],[56454,0.706],[56461,0.703],[56469,0.698],[56476,0.696],[56484,0.694],[56509,0.706],[56515,0.705],[56522,0.704],[56542,0.701],[56550,0.700],[56559,0.699],[56565,0.700],[56572,0.702],[56580,0.694],[56586,0.686],[56595,0.677],[56604,0.669],[56612,0.661],[56619,0.654],[56624,0.645],[56628,0.637],[56635,0.628],[56641,0.620],[56647,0.616],[56653,0.613],[56660,0.608],[56668,0.603],[56673,0.597],[56678,0.591],[56686,0.586],[56693,0.581],[56700,0.580],[56708,0.579],[56720,0.578],[56733,0.577],[56742,0.575],[56750,0.570],[56756,0.568],[56765,0.570],[56776,0.572],[56781,0.574],
[56833,0.630],[56838,0.634],[56843,0.637],[56877,0.600],[56904,0.583],[56908,0.578],[56912,0.574],[56917,0.566],[56952,0.522],[56976,0.538],[56980,0.545],[56985,0.551],[56993,0.558],[57002,0.565],
[57037,0.595],[57042,0.598],[57046,0.599],[57055,0.598],[57066,0.596],[57075,0.590],[57083,0.584],[57088,0.580],[57093,0.576],[57100,0.574],[57105,0.572],[57124,0.551],[57146,0.555],[57200,0.539],[57219,0.539],
[57253,0.548],[57258,0.547],[57263,0.547],[57283,0.553],[57289,0.560],[57295,0.568],[57318,0.561],[57356,0.545],[57362,0.540],[57368,0.535],[57374,0.528],[57380,0.522],[57385,0.517],[57390,0.512],[57395,0.508],[57400,0.503],[57434,0.509],[57466,0.511],[57470,0.510],[57474,0.508],[57521,0.505],
[57552,0.496],[57574,0.508],[57580,0.512],[57586,0.514],[57592,0.516],[57598,0.519],[57604,0.521],[57610,0.519],[57616,0.518],[57621,0.517],[57626,0.516],[57634,0.512],[57641,0.508],[57648,0.506],[57655,0.503],[57661,0.498],[57668,0.493],[57675,0.484],[57682,0.475],[57690,0.469],[57698,0.464],[57703,0.458],[57708,0.453],[57714,0.448],[57721,0.443],[57728,0.441],[57737,0.439],[57745,0.438],[57754,0.438],[57760,0.439],[57767,0.439],[57775,0.438],[57783,0.438],
[57813,0.461],[57862,0.478],[57870,0.478],[57879,0.477],[57887,0.475],[57894,0.473],[57900,0.480],[57906,0.488],[57913,0.486],[57919,0.483],[57950,0.470],[57993,0.470],[58024,0.454],[58032,0.453],[58041,0.452],[58059,0.464],[58066,0.466],[58073,0.467],[58080,0.467],[58088,0.467],[58093,0.467],[58098,0.466],[58104,0.468],[58111,0.470],[58132,0.471],[58140,0.474],[58147,0.477],[58155,0.481],[58162,0.484],[58166,0.486],[58170,0.488],[58174,0.494]
];
const synthErr = 0.009;
// OVRO 15 GHz: [MJD, Jy, error]
const ovroPts = [
[55190,0.434,0.030],[55197,0.436,0.020],[55204,0.457,0.025],[55208,0.441,0.015],[55214,0.466,0.020],[55220,0.447,0.012],[55227,0.475,0.015],[55231,0.460,0.012],[55239,0.410,0.080],[55244,0.460,0.030],[55249,0.446,0.020],[55253,0.439,0.015],[55259,0.429,0.012],[55262,0.447,0.012],[55273,0.461,0.020],[55277,0.478,0.020],[55293,0.454,0.045],[55308,0.455,0.010],[55321,0.452,0.010],[55324,0.465,0.010],[55338,0.469,0.045],[55346,0.517,0.050],[55356,0.521,0.060],[55358,0.507,0.025],[55385,0.407,0.025],[55388,0.464,0.040],[55391,0.444,0.020],[55398,0.443,0.012],[55425,0.440,0.022],[55428,0.431,0.015],[55433,0.404,0.060],[55438,0.414,0.015],[55447,0.412,0.035],[55450,0.421,0.012],[55457,0.431,0.055],[55462,0.429,0.030],[55470,0.429,0.012],
[55495,0.459,0.008],[55504,0.495,0.025],[55507,0.503,0.030],[55519,0.496,0.037],[55534,0.477,0.085],[55539,0.520,0.018],[55579,0.540,0.020],[55582,0.542,0.015],[55585,0.570,0.020],[55602,0.605,0.015],[55605,0.620,0.015],[55614,0.640,0.015],[55617,0.626,0.012],[55621,0.636,0.015],[55624,0.615,0.020],[55632,0.593,0.020],[55649,0.591,0.010],[55666,0.574,0.020],[55693,0.598,0.008],[55705,0.598,0.050],[55707,0.578,0.030],[55721,0.530,0.035],[55726,0.519,0.012],[55731,0.492,0.010],[55738,0.475,0.010],
[55764,0.419,0.008],[55780,0.417,0.020],[55785,0.406,0.020],[55790,0.424,0.015],[55795,0.424,0.012],[55798,0.435,0.012],[55804,0.441,0.010],[55813,0.449,0.012],[55820,0.449,0.010],[55826,0.461,0.015],[55833,0.446,0.010],[55838,0.454,0.010],[55849,0.544,0.030],[55853,0.451,0.010],[55858,0.459,0.012],[55865,0.464,0.010],[55871,0.475,0.012],[55878,0.482,0.012],[55883,0.476,0.010],[55893,0.483,0.012],[55905,0.476,0.012],[55910,0.471,0.010],[55915,0.462,0.010],[55925,0.471,0.012],[55934,0.465,0.010],[55939,0.449,0.010],[55944,0.439,0.010],[55957,0.456,0.012],[55964,0.446,0.010],[55977,0.472,0.015],[55984,0.447,0.012],[55995,0.450,0.010],[56003,0.465,0.012],[56007,0.482,0.012],[56009,0.442,0.012],[56017,0.469,0.030],
[56037,0.504,0.012],[56049,0.491,0.010],[56056,0.506,0.010],[56059,0.512,0.010],[56145,0.594,0.027],[56151,0.613,0.012],
[56178,0.755,0.020],[56186,0.867,0.025],[56193,1.093,0.015],[56195,1.063,0.015],[56198,0.970,0.040],[56201,0.924,0.020],[56203,0.862,0.012],[56208,0.780,0.015],[56212,0.738,0.012],[56213,0.725,0.025],[56213,0.631,0.015],[56216,0.727,0.020],[56220,0.703,0.017],[56224,0.667,0.012],[56231,0.662,0.010],[56235,0.644,0.010],[56237,0.631,0.012],[56250,0.635,0.010],[56254,0.659,0.010],[56258,0.670,0.012],[56264,0.649,0.015],[56268,0.627,0.020],[56273,0.657,0.035],[56276,0.652,0.015],[56281,0.671,0.015],[56283,0.657,0.012],[56294,0.647,0.012],[56303,0.666,0.012],[56305,0.657,0.012],[56313,0.702,0.015],[56330,0.691,0.030],[56339,0.677,0.025],[56340,0.642,0.015],[56343,0.637,0.020],[56349,0.650,0.015],[56358,0.647,0.015],[56363,0.662,0.012],[56377,0.603,0.015],[56382,0.596,0.020],[56387,0.580,0.020],[56396,0.646,0.040],[56402,0.600,0.050],[56407,0.620,0.030],[56410,0.635,0.025],[56414,0.615,0.030],[56417,0.595,0.040],[56420,0.620,0.030],[56424,0.666,0.030],[56427,0.690,0.035],[56430,0.692,0.030],[56434,0.700,0.025],[56438,0.673,0.025],[56442,0.708,0.020],[56447,0.719,0.020],[56450,0.729,0.020],[56454,0.734,0.025],[56458,0.767,0.020],[56461,0.754,0.020],[56467,0.729,0.020],[56474,0.747,0.030],[56481,0.715,0.030],[56484,0.734,0.025],[56487,0.732,0.030],[56491,0.708,0.015],[56506,0.752,0.030],[56509,0.747,0.020],[56511,0.702,0.020],[56512,0.690,0.020],[56513,0.675,0.030],[56522,0.632,0.012],[56542,0.657,0.030],[56544,0.689,0.015],[56554,0.665,0.025],[56558,0.660,0.020],[56564,0.702,0.075],[56571,0.702,0.010],[56574,0.689,0.015],[56583,0.672,0.020],[56588,0.677,0.010],[56603,0.656,0.010],[56608,0.642,0.010],[56612,0.620,0.040],[56616,0.603,0.070],[56620,0.702,0.114],[56627,0.632,0.020],[56641,0.641,0.030],[56650,0.639,0.020],[56653,0.610,0.025],[56658,0.627,0.015],[56669,0.564,0.030],[56677,0.554,0.015],[56685,0.552,0.010],[56693,0.561,0.015],[56696,0.550,0.010],[56700,0.521,0.025],[56705,0.512,0.015],[56710,0.507,0.012],[56715,0.514,0.010],[56733,0.526,0.012],[56736,0.517,0.015],[56738,0.538,0.020],[56742,0.545,0.015],[56750,0.549,0.010],[56757,0.569,0.025],[56764,0.565,0.015],[56778,0.535,0.020],[56780,0.526,0.020],[56782,0.515,0.015],[56785,0.515,0.012],
[56832,0.494,0.015],[56841,0.519,0.020],[56844,0.483,0.020],[56878,0.631,0.008],
[56904,0.824,0.070],[56905,0.783,0.030],[56905,0.779,0.020],[56906,0.752,0.020],[56907,0.744,0.015],[56910,0.738,0.015],[56912,0.729,0.015],[56912,0.710,0.015],[56910,0.697,0.015],[56916,0.675,0.010],[56916,0.663,0.010],
[56951,0.570,0.020],[56975,0.620,0.015],[56979,0.626,0.015],[56983,0.637,0.030],[56989,0.635,0.020],[57001,0.628,0.035],[57038,0.635,0.010],[57043,0.596,0.010],[57048,0.600,0.010],[57066,0.631,0.055],[57082,0.584,0.015],[57086,0.575,0.010],[57095,0.552,0.010],[57103,0.546,0.010],[57109,0.552,0.008],[57125,0.559,0.008],[57145,0.614,0.030],[57199,0.528,0.008],[57219,0.518,0.008],
[57251,0.723,0.050],[57257,0.588,0.010],[57260,0.605,0.015],[57264,0.625,0.015],[57283,0.627,0.050],[57285,0.618,0.040],[57287,0.614,0.040],[57296,0.559,0.020],[57317,0.566,0.015],[57320,0.566,0.015],[57355,0.543,0.015],[57357,0.537,0.015],[57365,0.519,0.010],[57370,0.505,0.010],[57380,0.522,0.010],[57383,0.531,0.010],[57389,0.527,0.010],[57398,0.486,0.070],[57401,0.483,0.010],[57433,0.578,0.015],[57435,0.591,0.012],[57438,0.584,0.010],[57466,0.579,0.020],[57467,0.571,0.020],[57471,0.591,0.025],[57475,0.590,0.022],[57519,0.555,0.008],
[57552,0.574,0.012],[57554,0.559,0.010],[57574,0.542,0.012],[57587,0.532,0.010],[57589,0.523,0.010],[57594,0.514,0.010],[57597,0.535,0.010],[57599,0.507,0.010],[57603,0.527,0.010],[57613,0.496,0.008],[57626,0.509,0.008],[57629,0.494,0.008],[57636,0.522,0.012],[57646,0.515,0.008],[57652,0.554,0.012],[57658,0.538,0.008],[57662,0.544,0.008],[57670,0.547,0.008],[57683,0.523,0.008],[57697,0.540,0.008],[57702,0.522,0.008],[57712,0.516,0.020],[57717,0.493,0.008],[57722,0.488,0.030],[57731,0.485,0.008],[57741,0.471,0.008],[57749,0.455,0.008],[57753,0.485,0.008],[57759,0.449,0.020],[57768,0.504,0.008],[57783,0.495,0.008],[57812,0.491,0.010],
[57858,0.470,0.008],[57862,0.468,0.008],[57866,0.442,0.008],[57876,0.467,0.015],[57878,0.461,0.010],[57893,0.441,0.008],[57897,0.450,0.008],[57903,0.442,0.008],[57908,0.415,0.008],[57919,0.430,0.010],[57948,0.440,0.033],[57950,0.435,0.010],[57989,0.445,0.010],[57995,0.430,0.015],[58023,0.425,0.008],[58028,0.434,0.008],[58041,0.453,0.008],[58042,0.443,0.008],[58057,0.438,0.008],[58067,0.420,0.008],[58071,0.429,0.025],[58078,0.430,0.008],[58082,0.436,0.020],[58088,0.427,0.008],[58097,0.415,0.008],[58110,0.421,0.008],[58131,0.417,0.008],[58133,0.427,0.015],[58141,0.432,0.008],[58149,0.427,0.025],[58152,0.446,0.008],[58156,0.427,0.008],[58165,0.415,0.008],[58167,0.406,0.008],[58172,0.420,0.015],[58175,0.425,0.008],[58214,0.433,0.008]
];
// Inset response curve
const insetT = [0,20,40,40,50,60,70,80,90,100,110,125,140,150,175,200,225,250,275,300,350,400,450,500,550,600,650,700];
const insetS = [0,0,0,1.0,0.93,0.866,0.806,0.75,0.70,0.65,0.604,0.543,0.488,0.453,0.379,0.316,0.264,0.221,0.185,0.154,0.107,0.075,0.052,0.037,0.026,0.018,0.012,0.009];
// Tick labels
const mjdTicks = [55500,56000,56500,57000,57500,58000];
const yearLabels = [2009,2010,2011,2012,2013,2014,2015,2016,2017];
const fermiTicks = [0,0.5,1.0,1.5];
const jyTicks = [0.4,0.6,0.8,1.0];
const insetXTicks = [0,200,400,600];
const insetYTicks = [0,0.5,1.0];
const shadeStart = [55500];

// ---------------- LAYOUT ----------------
const X_MIN = 55186, X_MAX = 58268;
const YEAR_MIN = 2008.2461, YEAR_MAX = 2017.6569;
const yearTickPos = [0,1,2,3,4,5,6,7,8,9].map(k => YEAR_MIN + k);
const BLUE = '#1f77b4', GRAY = '#808080', SHADE = '#d3d3d3';
const FONT = 'DejaVu Sans';
const fermiAll = fermiPts.concat(fermiPtsLow);

const chart = echarts.init(document.getElementById('c'), null, {renderer: 'canvas', devicePixelRatio: 1});

function errSeries(data, xi, yi, lw) {
  return {
    type: 'custom', xAxisIndex: xi, yAxisIndex: yi, data: data, z: 2, silent: true,
    animation: false, progressive: 0, encode: {x: 0, y: 1},
    renderItem: function (params, api) {
      const x = api.value(0), y = api.value(1), e = api.value(2);
      const a = api.coord([x, y - e]), b = api.coord([x, y + e]);
      const cs = params.coordSys;
      const top = cs.y, bot = cs.y + cs.height;
      const y1 = Math.min(Math.max(a[1], top), bot), y2 = Math.min(Math.max(b[1], top), bot);
      return {type: 'line', shape: {x1: a[0], y1: y1, x2: b[0], y2: y2}, style: {stroke: GRAY, lineWidth: lw}};
    }
  };
}
function shadeSeries(xi, yi) {
  return {
    type: 'custom', xAxisIndex: xi, yAxisIndex: yi, data: [[shadeStart[0], X_MAX]], z: 1, silent: true,
    animation: false, encode: {x: [0, 1]},
    renderItem: function (params, api) {
      const cs = params.coordSys;
      const a = api.coord([api.value(0), 0.5]), b = api.coord([api.value(1), 0.5]);
      return {type: 'rect', shape: {x: a[0], y: cs.y, width: b[0] - a[0], height: cs.height}, style: {fill: SHADE}};
    }
  };
}
function dots(data, xi, yi, size) {
  return {type: 'scatter', xAxisIndex: xi, yAxisIndex: yi, data: data.map(p => [p[0], p[1]]),
    symbol: 'circle', symbolSize: size, itemStyle: {color: BLUE, opacity: 1}, z: 3, silent: true,
    animation: false, progressive: 0, large: false};
}

const axLine = {show: true, onZero: false, lineStyle: {color: '#000', width: 3}};
const tickStyle = {color: '#000', width: 3};

function mainX(gi, showLabels) {
  return {
    gridIndex: gi, type: 'value', min: X_MIN, max: X_MAX, z: 10,
    axisLine: axLine, splitLine: {show: false},
    axisTick: showLabels ? {show: true, inside: false, length: 12, lineStyle: tickStyle, customValues: mjdTicks} : {show: false},
    axisLabel: showLabels ? {show: true, customValues: mjdTicks, fontSize: 46, fontFamily: FONT, color: '#000', margin: 23, formatter: v => String(Math.round(v))} : {show: false}
  };
}
function mainY(gi, min, max, ticks) {
  return {
    gridIndex: gi, type: 'value', min: min, max: max, z: 10,
    axisLine: axLine, splitLine: {show: false},
    axisTick: {show: true, inside: false, length: 11, lineStyle: tickStyle, customValues: ticks},
    axisLabel: {show: true, customValues: ticks, fontSize: 42, fontFamily: FONT, color: '#000', margin: 30, formatter: v => v.toFixed(1)}
  };
}

const option = {
  backgroundColor: '#ffffff',
  animation: false,
  grid: [
    {left: 224, top: 192, width: 2172, height: 580},
    {left: 224, top: 772, width: 2172, height: 579},
    {left: 224, top: 1351, width: 2172, height: 580},
    {left: 1875, top: 789, width: 513, height: 230, show: true, backgroundColor: '#ffffff', borderColor: '#000', borderWidth: 3, z: 5}
  ],
  xAxis: [
    mainX(0, false), mainX(1, false), mainX(2, true),
    {gridIndex: 0, type: 'value', position: 'top', min: YEAR_MIN, max: YEAR_MAX, z: 10,
      axisLine: axLine, splitLine: {show: false},
      axisTick: {show: true, inside: false, length: 12, lineStyle: tickStyle, customValues: yearTickPos},
      axisLabel: {show: true, customValues: yearLabels, fontSize: 36, fontFamily: FONT, color: '#000', margin: 24, formatter: v => String(Math.round(v))}},
    {gridIndex: 3, type: 'value', min: -35, max: 735, z: 7,
      axisLine: axLine, splitLine: {show: false},
      axisTick: {show: true, inside: false, length: 12, lineStyle: tickStyle, customValues: insetXTicks},
      axisLabel: {show: true, customValues: insetXTicks, fontSize: 33, fontFamily: FONT, color: '#000', margin: 27, formatter: v => String(Math.round(v))}}
  ],
  yAxis: [
    mainY(0, -0.0935, 1.750, fermiTicks),
    mainY(1, 0.3507, 1.0997, jyTicks),
    mainY(2, 0.3496, 1.1023, jyTicks),
    {gridIndex: 3, type: 'value', min: -0.05, max: 1.05, z: 7,
      axisLine: axLine, splitLine: {show: false},
      axisTick: {show: true, inside: false, length: 12, lineStyle: tickStyle, customValues: insetYTicks},
      axisLabel: {show: true, customValues: insetYTicks, fontSize: 33, fontFamily: FONT, color: '#000', margin: 26, formatter: v => v.toFixed(1)}}
  ],
  series: [
    // Fermi
    errSeries(fermiAll, 0, 0, 4.5),
    dots(fermiAll, 0, 0, 12),
    {type: 'scatter', xAxisIndex: 0, yAxisIndex: 0, data: fermiUL, symbol: 'triangle', symbolRotate: 180,
      symbolSize: [15, 13], itemStyle: {color: BLUE}, z: 3, silent: true, animation: false, progressive: 0},
    // Synthetic
    shadeSeries(1, 1),
    errSeries(synthPts.map(p => [p[0], p[1], synthErr]), 1, 1, 4.5),
    dots(synthPts, 1, 1, 11),
    // OVRO
    shadeSeries(2, 2),
    errSeries(ovroPts, 2, 2, 4.5),
    dots(ovroPts, 2, 2, 10),
    // Inset
    {type: 'line', xAxisIndex: 4, yAxisIndex: 3, data: insetT.map((t, i) => [t, insetS[i]]),
      symbol: 'none', lineStyle: {color: BLUE, width: 4.5}, z: 6, silent: true, animation: false}
  ],
  graphic: [
    {type: 'text', x: 1267, y: 49, style: {text: 'Data', fontSize: 81, fontWeight: 'bold', fontFamily: 'Liberation Sans', fill: '#000', align: 'center', verticalAlign: 'middle'}},
    {type: 'text', x: 401, y: 289, z: 20, style: {text: 'Mrk 421', fontSize: 80, fontWeight: 'bold', fontFamily: 'Liberation Sans', fill: '#000', align: 'left', verticalAlign: 'middle'}},
    {type: 'text', x: 23, y: 483, rotation: Math.PI / 2, style: {text: 'Fermi (0.1-300 GeV)', fontSize: 43, fontFamily: FONT, fill: '#000', align: 'center', verticalAlign: 'middle'}},
    {type: 'text', x: 82, y: 466, rotation: Math.PI / 2, style: {text: '(10\u207B\u2076ph/cm\u00B2/s)', fontSize: 43, fontFamily: FONT, fill: '#000', align: 'center', verticalAlign: 'middle'}},
    {type: 'text', x: 30, y: 1058, rotation: Math.PI / 2, style: {text: 'Synthetic LC', fontSize: 43, fontFamily: FONT, fill: '#000', align: 'center', verticalAlign: 'middle'}},
    {type: 'text', x: 85, y: 1062, rotation: Math.PI / 2, style: {text: '(Jy)', fontSize: 43, fontFamily: FONT, fill: '#000', align: 'center', verticalAlign: 'middle'}},
    {type: 'text', x: 31, y: 1642, rotation: Math.PI / 2, style: {text: 'OVRO (15 GHz)', fontSize: 43, fontFamily: FONT, fill: '#000', align: 'center', verticalAlign: 'middle'}},
    {type: 'text', x: 84, y: 1642, rotation: Math.PI / 2, style: {text: '(Jy)', fontSize: 43, fontFamily: FONT, fill: '#000', align: 'center', verticalAlign: 'middle'}},
    {type: 'text', x: 1760, y: 905, rotation: Math.PI / 2, z: 20, style: {text: '{i|S/S}{s|max}', fontSize: 34, fontFamily: FONT, fill: '#000', align: 'center', verticalAlign: 'middle',
      rich: {i: {fontSize: 34, fontStyle: 'italic', fontFamily: FONT, lineHeight: 42, verticalAlign: 'top'}, s: {fontSize: 24, fontStyle: 'italic', fontFamily: FONT, lineHeight: 42, verticalAlign: 'bottom'}}}},
    {type: 'text', x: 2129, y: 1108, z: 20, style: {text: '{i|t} (d)', fontSize: 34, fontFamily: FONT, fill: '#000', align: 'center', verticalAlign: 'middle',
      rich: {i: {fontSize: 34, fontStyle: 'italic', fontFamily: FONT}}}}
  ]
};
chart.setOption(option);
</script>
</body></html>
